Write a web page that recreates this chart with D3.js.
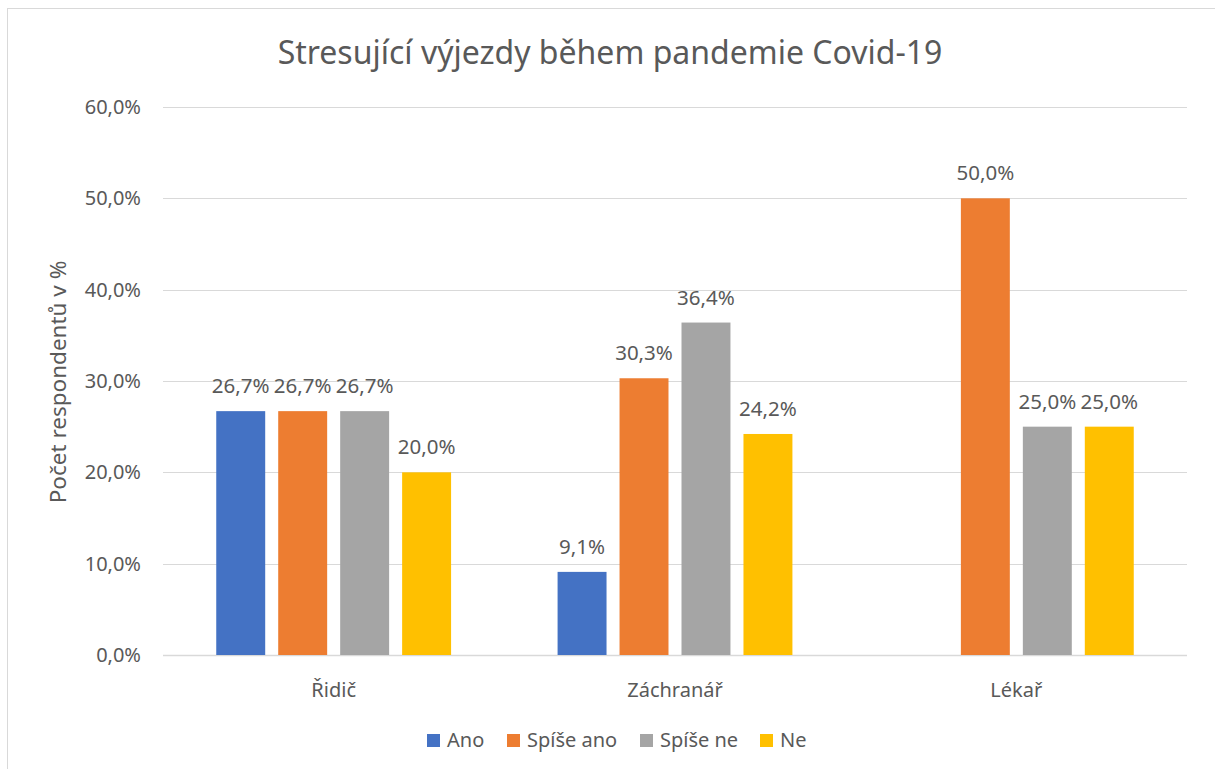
<!DOCTYPE html>
<html><head><meta charset="utf-8">
<script src="https://cdn.jsdelivr.net/npm/d3@7"></script>
<style>body{margin:0;background:#fff}svg{display:block}text{font-family:"Noto Sans",sans-serif;fill:#595959}</style>
</head><body><svg id="c" width="1215" height="769"></svg>
<script>
const title = "Stresující výjezdy během pandemie Covid-19";
const yAxisTitle = "Počet respondentů v %";
const categories = ["Řidič", "Záchranář", "Lékař"];
const seriesNames = ["Ano", "Spíše ano", "Spíše ne", "Ne"];
const seriesColors = ["#4472C4", "#ED7D31", "#A5A5A5", "#FFC000"];
const valuesAno = [26.7, 9.1, null];
const valuesSpiseAno = [26.7, 30.3, 50.0];
const valuesSpiseNe = [26.7, 36.4, 25.0];
const valuesNe = [20.0, 24.2, 25.0];
const yTicks = [0, 10, 20, 30, 40, 50, 60];

const seriesValues = [valuesAno, valuesSpiseAno, valuesSpiseNe, valuesNe];
const fmt = v => d3.format(".1f")(v).replace(".", ",") + "%";

const svg = d3.select("#c");
const W = 1215, H = 769;
const m = {left: 163, right: 1187, top: 107, bottom: 655};

svg.append("rect").attr("x", 7.5).attr("y", 8.5).attr("width", W + 10).attr("height", H + 10)
  .attr("fill", "#fff").attr("stroke", "#D9D9D9").attr("stroke-width", 1);

const y = d3.scaleLinear().domain([0, 60]).range([m.bottom, m.top]);
const x0 = d3.scaleBand().domain(categories).range([m.left, m.right]).paddingInner(0).paddingOuter(0);
const outer = x0.bandwidth() * 0.156;
const x1 = d3.scaleBand().domain(seriesNames).range([outer, x0.bandwidth() - outer]).paddingInner(0.21).paddingOuter(0);

// gridlines
svg.append("g").selectAll("line").data(yTicks).join("line")
  .attr("x1", m.left).attr("x2", m.right)
  .attr("y1", d => Math.round(y(d)) + 0.5).attr("y2", d => Math.round(y(d)) + 0.5)
  .attr("stroke", "#D9D9D9").attr("stroke-width", d => d === 0 ? 1.5 : 1.2);

// y tick labels
svg.append("g").selectAll("text").data(yTicks).join("text")
  .attr("x", 141).attr("y", d => y(d) + 7).attr("text-anchor", "end")
  .attr("font-size", 20).text(d => fmt(d));

// bars
const groups = svg.append("g").selectAll("g").data(seriesNames).join("g")
  .attr("fill", (d, i) => seriesColors[i]);
groups.each(function(s, si) {
  const data = categories.map((c, ci) => ({c, v: seriesValues[si][ci]})).filter(d => d.v != null);
  const g = d3.select(this);
  g.selectAll("rect").data(data).join("rect")
    .attr("x", d => x0(d.c) + x1(s))
    .attr("width", x1.bandwidth())
    .attr("y", d => y(d.v))
    .attr("height", d => y(0) - y(d.v));
  g.selectAll("text").data(data).join("text")
    .attr("x", d => x0(d.c) + x1(s) + x1.bandwidth() / 2)
    .attr("y", d => y(d.v) - 18)
    .attr("text-anchor", "middle").attr("font-size", 20.5)
    .text(d => fmt(d.v));
});

// category labels
svg.append("g").selectAll("text").data(categories).join("text")
  .attr("x", d => x0(d) + x0.bandwidth() / 2).attr("y", 697)
  .attr("text-anchor", "middle").attr("font-size", 20).text(d => d);

// y axis title
svg.append("text").attr("transform", `translate(66,${382}) rotate(-90)`)
  .attr("text-anchor", "middle").attr("font-size", 22.5).text(yAxisTitle);

// title
svg.append("text").attr("x", 610).attr("y", 64).attr("text-anchor", "middle")
  .attr("font-size", 32).text(title);

// legend
const legendX = [427, 507, 640, 760];
const leg = svg.append("g").selectAll("g").data(seriesNames).join("g")
  .attr("transform", (d, i) => `translate(${legendX[i]},734)`);
leg.append("rect").attr("width", 13).attr("height", 13).attr("fill", (d, i) => seriesColors[i]);
leg.append("text").attr("x", 20).attr("y", 13).attr("font-size", 20).text(d => d);
</script></body></html>
